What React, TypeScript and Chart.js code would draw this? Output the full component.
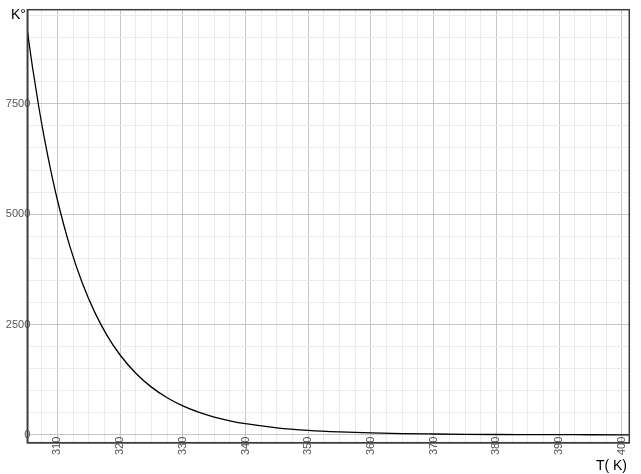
import React, { useEffect, useRef } from 'react'
import Chart, { ChartConfiguration, Plugin } from 'chart.js/auto'

// temperature (K) and equilibrium constant
const temps = [
    305.2, 306, 307, 308, 309, 310, 312, 314, 316, 318, 320, 322.5, 325, 327.5, 330, 332.5, 335, 337.5, 340,
    345, 350, 355, 360, 365, 370, 375, 380, 385, 390, 395, 400, 401.2,
]
const kValues = [
    9160, 8357, 7457, 6659, 5952, 5322, 4266, 3429, 2764, 2233, 1810, 1397, 1082, 842, 657, 515, 405, 320, 253,
    161, 103, 67, 44, 29, 20, 13, 9, 6.4, 4.5, 3.2, 2.3, 2.1,
]

const xMajorLabels = [310, 320, 330, 340, 350, 360, 370, 380, 390, 400]
const yMajorLabels = [0, 2500, 5000, 7500]

const yTitle = 'K°'
const xTitle = 'T( K)'

// minor grid every 2.5 K and every 500
const xGrid: number[] = []
for (let v = 307.5; v <= 400; v += 2.5) xGrid.push(v)
const yGrid: number[] = []
for (let v = 0; v <= 9500; v += 500) yGrid.push(v)

const FONT = '"Liberation Sans", Arial, Helvetica, sans-serif'

const framePlugin: Plugin = {
    id: 'frame',
    afterDraw(chart) {
        const { ctx, chartArea: a } = chart
        ctx.save()
        ctx.strokeStyle = '#3c3c3c'
        ctx.lineWidth = 1.5
        ctx.strokeRect(a.left, a.top, a.right - a.left, a.bottom - a.top)
        ctx.fillStyle = '#000'
        ctx.font = '14px ' + FONT
        ctx.textBaseline = 'alphabetic'
        ctx.textAlign = 'left'
        ctx.fillText(yTitle, 11, 18.5)
        ctx.textAlign = 'right'
        ctx.fillText(xTitle, 627, 469.5)
        ctx.restore()
    },
}

export default function App() {
    const ctx = useRef<HTMLCanvasElement | null>(null)

    useEffect(() => {
        if (!ctx.current) {
            return
        }

        const cfg: ChartConfiguration = {
            type: 'line',
            data: {
                datasets: [
                    {
                        data: temps.map((t, i) => ({ x: t, y: kValues[i] })),
                        borderColor: '#000',
                        borderWidth: 1.3,
                        pointRadius: 0,
                        cubicInterpolationMode: 'monotone',
                        fill: false,
                    },
                ],
            },
            options: {
                animation: false,
                responsive: false,
                maintainAspectRatio: false,
                layout: { padding: { top: 9.7, right: 11.7, left: 0, bottom: 0 } },
                plugins: {
                    legend: { display: false },
                    tooltip: { enabled: false },
                },
                scales: {
                    x: {
                        type: 'linear',
                        min: 305.2,
                        max: 401.2,
                        afterBuildTicks: (scale: any) => {
                            scale.ticks = xGrid.map((v) => ({ value: v }))
                        },
                        afterFit: (scale: any) => {
                            scale.height = 31.3
                            // labels overlap the axis line, don't clip them to the scale box
                            scale._computeLabelArea = () => undefined
                        },
                        border: { color: '#3c3c3c', width: 1.5 },
                        grid: {
                            drawTicks: false,
                            color: (c: any) =>
                                c.tick && xMajorLabels.includes(c.tick.value) ? '#c6c6c6' : '#ebebeb',
                        },
                        ticks: {
                            autoSkip: false,
                            minRotation: 90,
                            maxRotation: 90,
                            padding: -6,
                            color: '#555',
                            font: { family: FONT, size: 11 },
                            callback: (v: any) => (xMajorLabels.includes(v) ? String(v) : ''),
                        },
                    },
                    y: {
                        type: 'linear',
                        min: -177,
                        max: 9633,
                        afterBuildTicks: (scale: any) => {
                            scale.ticks = yGrid.map((v) => ({ value: v }))
                        },
                        afterFit: (scale: any) => {
                            scale.width = 27.3
                            scale._computeLabelArea = () => undefined
                        },
                        border: { color: '#3c3c3c', width: 1.5 },
                        grid: {
                            drawTicks: false,
                            color: (c: any) =>
                                c.tick && yMajorLabels.includes(c.tick.value) ? '#c6c6c6' : '#ebebeb',
                        },
                        ticks: {
                            autoSkip: false,
                            padding: -3,
                            color: '#555',
                            font: { family: FONT, size: 11 },
                            callback: (v: any) => (yMajorLabels.includes(v) ? String(v) : ''),
                        },
                    },
                },
            },
            plugins: [framePlugin],
        }

        const myChart = new Chart(ctx.current, cfg)
        return () => myChart.destroy()
    }, [])

    return (
        <div style={{ position: 'absolute', left: 0, top: 0, width: 641, height: 474 }}>
            <canvas ref={ctx} width="641" height="474"></canvas>
        </div>
    )
}
